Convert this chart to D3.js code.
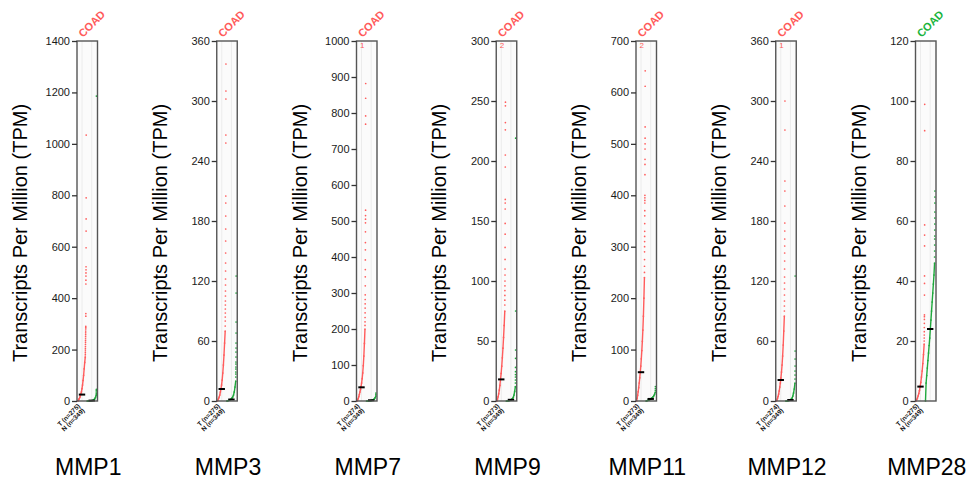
<!DOCTYPE html>
<html lang="en">
<head>
<meta charset="UTF-8">
<title>MMP expression in COAD</title>
<script src="https://cdn.jsdelivr.net/npm/d3@7"></script>
<style>
  body { margin: 0; background: #fff; }
  svg { display: block; font-family: "Liberation Sans", Arial, sans-serif; }
</style>
</head>
<body>
<div id="chart"></div>
<script>
// one panel per gene, tumour (T) vs normal (N) in COAD
var genes = ["MMP1", "MMP3", "MMP7", "MMP9", "MMP11", "MMP12", "MMP28"];
var yMax = [1400, 360, 1000, 300, 700, 360, 120];
var yStep = [200, 60, 100, 50, 100, 60, 20];
var tumorCount = [275, 275, 274, 273, 273, 274, 275];
var normalCount = [349, 349, 349, 349, 349, 349, 349];
var offScale = ["", "", "1", "2", "2", "1", ""];   // points above the axis
var titleColor = ["red", "red", "red", "red", "red", "red", "green"];

var tumorMedian = [25, 12, 38, 18, 56, 21, 4.8];
var normalMedian = [1.5, 1.5, 2, 1, 4, 1, 24];

// sorted values read along the dense part of each curve (evenly spaced ranks)
var tumorBulk = [
  [0, 2, 5, 9, 14, 20, 27, 36, 48, 62, 80, 100, 125, 150, 170],
  [0, 1, 2.5, 4, 6, 9, 12, 16, 21, 28, 36, 46, 58, 70],
  [0, 3, 7, 12, 18, 25, 32, 40, 50, 62, 78, 98, 125, 160, 200],
  [0, 1.5, 3.5, 6, 9, 13, 18, 23, 29, 36, 44, 53, 63, 75],
  [0, 5, 11, 18, 26, 35, 45, 56, 68, 82, 98, 116, 138, 165, 200, 240],
  [0, 1, 2.5, 4.5, 7, 10, 14, 18, 23, 29, 36, 45, 56, 70, 85],
  [0, 0.5, 1, 1.7, 2.5, 3.5, 4.8, 6.2, 8, 10, 12.5, 15.5, 19]
];
// single high points, ascending
var tumorTop = [
  [175, 182, 190, 198, 205, 212, 220, 228, 235, 242, 250, 258, 265, 272, 280, 285, 290, 330, 340, 455, 470, 486, 498, 510, 522, 596, 661, 708, 790, 1034],
  [75, 80, 84, 88, 92, 96, 100, 105, 110, 116, 122, 130, 138, 148, 160, 172, 185, 198, 205, 258, 266, 302, 310, 337],
  [210, 220, 232, 245, 258, 270, 282, 295, 320, 345, 365, 392, 420, 440, 470, 495, 505, 515, 530, 769, 792, 841, 882],
  [80, 84, 88, 92, 96, 100, 105, 110, 118, 128, 139, 148, 160, 165, 168, 195, 205, 226, 232, 246, 249],
  [250, 262, 275, 290, 300, 310, 320, 330, 345, 360, 370, 385, 390, 395, 400, 440, 460, 470, 490, 500, 511, 533, 612, 642],
  [90, 95, 100, 106, 112, 118, 124, 132, 140, 148, 155, 162, 170, 178, 195, 210, 220, 271, 300],
  [20, 21, 22, 23.1, 24.5, 25.9, 27.2, 28.1, 28.7, 35.3, 39.2, 41.7, 51.7, 55.3, 58.7, 90.1, 98.9]
];
var normalBulk = [
  [0, 0, 0, 0.2, 0.5, 1, 1.5, 2, 3, 5, 8, 14, 22],
  [0, 0.2, 0.4, 0.7, 1, 1.5, 2, 3, 4, 6, 9, 14, 20],
  [0, 0, 0.1, 0.3, 0.5, 0.8, 1, 1.5, 2, 3, 4, 6, 9, 14],
  [0, 0, 0.1, 0.2, 0.3, 0.5, 0.8, 1, 1.5, 2, 3, 5, 8, 12],
  [0, 0.5, 1, 1.5, 2, 3, 4, 5, 6, 8, 10, 13, 17],
  [0, 0, 0.1, 0.2, 0.4, 0.6, 1, 1.5, 2, 3, 5, 8, 12, 18],
  [0, 6, 8.5, 11, 13.5, 16, 18.5, 21, 24, 27, 30, 33, 36, 39, 42, 46]
];
var normalTop = [
  [25, 30, 35, 40, 45, 1186],
  [24, 27, 29, 32, 34, 37, 39, 44, 49, 53, 58, 68, 79, 108, 125],
  [18, 22],
  [15, 17.5, 20, 22, 24.4, 28, 35.6, 42.5, 75, 219],
  [20, 24, 28],
  [22, 26, 30, 35, 42, 50, 125],
  [48, 50, 52, 54, 55, 57, 59, 61, 63, 66, 68, 70]
];

var W = 975, H = 486;
var plotTop = 41, plotBottom = 401;
var boxW = 20.5;
var panelLeft = d3.scaleLinear().domain([0, 6]).range([77, 915.5]);
var red = "#ff5c5c", green = "#1fa83c";
var coadColor = { red: "#ff5a5a", green: "#19b43c" };

var svg = d3.select("#chart").append("svg")
  .attr("width", W)
  .attr("height", H);

// turn bulk + top arrays into ranked points
function ranked(bulk, top, n) {
  var pts = [];
  var k = top.length;
  var m = bulk.length;
  bulk.forEach(function(v, i) {
    pts.push({ rank: i * (n - k - 1) / (m - 1), value: v, bulk: true });
  });
  top.forEach(function(v, j) {
    pts.push({ rank: n - k + j, value: v, bulk: false });
  });
  return pts;
}

genes.forEach(function(gene, g) {
  var left = panelLeft(g);
  var panel = svg.append("g").attr("transform", "translate(" + left + ",0)");

  var y = d3.scaleLinear().domain([0, yMax[g]]).range([plotBottom, plotTop]);

  // box background + column guide lines
  panel.append("rect")
    .attr("x", 0).attr("y", plotTop)
    .attr("width", boxW).attr("height", plotBottom - plotTop)
    .attr("fill", "#fbfbfb");
  [5, 14.7].forEach(function(cx) {
    panel.append("line")
      .attr("x1", cx).attr("x2", cx)
      .attr("y1", plotTop).attr("y2", plotBottom)
      .attr("stroke", "#ececec").attr("stroke-width", 1);
  });

  var series = [
    { bulk: tumorBulk[g], top: tumorTop[g], n: tumorCount[g], color: red, x0: 0.6, x1: 9.2, med: tumorMedian[g], mx: 5 },
    { bulk: normalBulk[g], top: normalTop[g], n: normalCount[g], color: green, x0: 10, x1: 19.4, med: normalMedian[g], mx: 14.7 }
  ];

  series.forEach(function(s) {
    var pts = ranked(s.bulk, s.top, s.n);
    var x = d3.scaleLinear().domain([0, s.n - 1]).range([s.x0, s.x1]);
    var line = d3.line()
      .x(function(d) { return x(d.rank); })
      .y(function(d) { return y(d.value); });
    panel.append("path")
      .datum(pts.filter(function(d) { return d.bulk; }))
      .attr("d", line)
      .attr("fill", "none")
      .attr("stroke", s.color)
      .attr("stroke-width", 1.4);
    panel.selectAll(null)
      .data(pts)
      .enter()
      .append("circle")
      .attr("cx", function(d) { return x(d.rank); })
      .attr("cy", function(d) { return y(d.value); })
      .attr("r", 0.85)
      .attr("fill", s.color);
  });

  // median bars
  series.forEach(function(s) {
    panel.append("line")
      .attr("x1", s.mx - 3.2).attr("x2", s.mx + 3.2)
      .attr("y1", y(s.med)).attr("y2", y(s.med))
      .attr("stroke", "#000").attr("stroke-width", 2);
  });

  // frame
  panel.append("rect")
    .attr("x", 0).attr("y", plotTop)
    .attr("width", boxW).attr("height", plotBottom - plotTop)
    .attr("fill", "none")
    .attr("stroke", "#555").attr("stroke-width", 1.4);

  // y axis
  var axis = d3.axisLeft(y)
    .tickValues(d3.range(0, yMax[g] + 1, yStep[g]))
    .tickFormat(d3.format("d"))
    .tickSize(5)
    .tickPadding(2);
  var ag = panel.append("g").call(axis);
  ag.select(".domain").remove();
  ag.selectAll(".tick line").attr("stroke", "#333").attr("stroke-width", 1.3);
  ag.selectAll(".tick text")
    .style("fill", "#1a1a1a")
    .style("font-size", "11px")
    .style("font-family", "'Liberation Sans', Arial, sans-serif");

  // off-scale count
  if (offScale[g]) {
    panel.append("text")
      .attr("x", 3.5).attr("y", plotTop + 7)
      .attr("fill", red)
      .style("font-size", "8px")
      .text(offScale[g]);
  }

  // y title
  panel.append("text")
    .attr("transform", "translate(-50," + ((plotTop + plotBottom) / 2 + 12) + ") rotate(-90)")
    .attr("text-anchor", "middle")
    .attr("fill", "#000")
    .style("font-size", "20px")
    .text("Transcripts Per Million (TPM)");

  // cancer type label
  panel.append("text")
    .attr("transform", "translate(6," + (plotTop - 3) + ") rotate(-45)")
    .attr("fill", coadColor[titleColor[g]])
    .style("font-size", "11px")
    .style("font-weight", "bold")
    .text("COAD");

  // group labels
  panel.append("text")
    .attr("transform", "translate(3.5," + (plotBottom + 5.5) + ") rotate(-45)")
    .attr("text-anchor", "end")
    .style("font-size", "6.5px")
    .style("font-weight", "bold")
    .attr("fill", "#111")
    .text("T (n=" + tumorCount[g] + ")");
  panel.append("text")
    .attr("transform", "translate(8," + (plotBottom + 10) + ") rotate(-45)")
    .attr("text-anchor", "end")
    .style("font-size", "6.5px")
    .style("font-weight", "bold")
    .attr("fill", "#111")
    .text("N (n=" + normalCount[g] + ")");

  // gene name
  panel.append("text")
    .attr("x", boxW / 2 + 1).attr("y", 475)
    .attr("text-anchor", "middle")
    .attr("fill", "#000")
    .style("font-size", "23px")
    .text(gene);
});
</script>
</body>
</html>
